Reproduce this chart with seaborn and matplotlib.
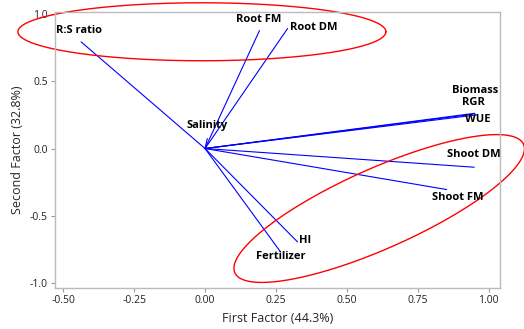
import numpy as np
import pandas as pd
import matplotlib
matplotlib.use("Agg")
import matplotlib.pyplot as plt
import seaborn as sns

# --- loadings ---
variables = ["R:S ratio", "Root FM", "Root DM", "Salinity", "Biomass", "RGR",
             "WUE", "Shoot DM", "Shoot FM", "HI", "Fertilizer"]
first_factor = [-0.437, 0.192, 0.291, 0.008, 0.951, 0.944, 0.957, 0.949, 0.852, 0.326, 0.266]
second_factor = [0.793, 0.877, 0.892, 0.074, 0.262, 0.255, 0.250, -0.139, -0.305, -0.694, -0.768]

x_ticks = [-0.50, -0.25, 0.00, 0.25, 0.50, 0.75, 1.00]
y_ticks = [-1.0, -0.5, 0.0, 0.5, 1.0]

# label placement (offset in pixels from the vector tip, horizontal alignment)
label_offsets = {
    "R:S ratio": (-2, 11, "center"),
    "Root FM": (-1, 11, "center"),
    "Root DM": (2, 1, "left"),
    "Salinity": (0, 13, "center"),
    "Biomass": (0, 23, "center"),
    "RGR": (1, 12, "center"),
    "WUE": (1, -5, "center"),
    "Shoot DM": (0, 13, "center"),
    "Shoot FM": (11, -8, "center"),
    "HI": (2, 1, "left"),
    "Fertilizer": (0, -5, "center"),
}

# highlight ellipses: centre (data), semi-axes (px), rotation (deg)
ellipses = [
    ((-0.011, 0.868), 184, 29, 0),
    ((0.614, -0.446), 158, 40, 24),
]

# --- plotting ---
sns.set_theme(style="ticks")
plt.rcParams["font.family"] = ["Open Sans", "DejaVu Sans"]

fig = plt.figure(figsize=(5.24, 3.29), dpi=100)
ax = fig.add_axes([55 / 524, 1 - 288 / 329, 445 / 524, 276 / 329])

rows = []
for v, x, y in zip(variables, first_factor, second_factor):
    rows.append({"var": v, "step": 0, "x": 0.0, "y": 0.0})
    rows.append({"var": v, "step": 1, "x": x, "y": y})
df = pd.DataFrame(rows)

sns.lineplot(data=df, x="x", y="y", units="var", estimator=None, sort=False,
             color="#0000ff", linewidth=0.8, ax=ax, legend=False)

for v, x, y in zip(variables, first_factor, second_factor):
    dx, dy, ha = label_offsets[v]
    ax.annotate(v, (x, y), xytext=(dx, dy), textcoords="offset pixels",
                ha=ha, va="center", fontsize=8, fontweight="bold", color="black")

ax.set_xlim(-0.529, 1.04)
ax.set_ylim(-1.037, 1.015)
ax.set_xticks(x_ticks)
ax.set_xticklabels([f"{t:.2f}" for t in x_ticks])
ax.set_yticks(y_ticks)
ax.set_yticklabels([f"{t:.1f}" for t in y_ticks])

ax.set_xlabel("First Factor (44.3%)", fontsize=9, labelpad=4)
ax.set_ylabel("Second Factor (32.8%)", fontsize=9, labelpad=4)
ax.tick_params(labelsize=7.5, length=3, width=0.8, color="#999999", labelcolor="#222222", pad=2)
for s in ax.spines.values():
    s.set_color("#bbbbbb")
    s.set_linewidth(1.0)

# ellipses drawn in pixel space then mapped back to data
p0 = ax.transData.transform((0, 0))
p1 = ax.transData.transform((1, 1))
sx, sy = p1[0] - p0[0], p1[1] - p0[1]
t = np.linspace(0, 2 * np.pi, 400)
for (cx, cy), a, b, ang in ellipses:
    phi = np.deg2rad(ang)
    px = a * np.cos(t) * np.cos(phi) - b * np.sin(t) * np.sin(phi)
    py = a * np.cos(t) * np.sin(phi) + b * np.sin(t) * np.cos(phi)
    ax.plot(cx + px / sx, cy + py / sy, color="#ff0000", linewidth=1.0, clip_on=False)

fig.savefig("out.png", dpi=100)
